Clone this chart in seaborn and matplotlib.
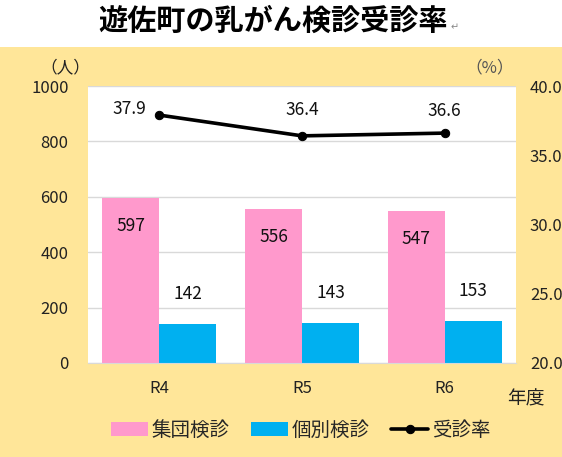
import numpy as np
import pandas as pd
import matplotlib
matplotlib.use('Agg')
import matplotlib.pyplot as plt
from matplotlib.patches import Rectangle
import seaborn as sns

years = ['R4', 'R5', 'R6']
group_exam = [597, 556, 547]
indiv_exam = [142, 143, 153]
rate = [37.9, 36.4, 36.6]
series_names = ['集団検診', '個別検診']

df = pd.DataFrame({
    '年度': years * 2,
    '人数': group_exam + indiv_exam,
    '区分': [series_names[0]] * 3 + [series_names[1]] * 3,
})
df_rate = pd.DataFrame({'年度': years, '受診率': rate})

sns.set_style('white')
plt.rcParams['font.family'] = ['Noto Sans CJK JP', 'DejaVu Sans']

fig = plt.figure(figsize=(5.62, 4.57), dpi=100)
fig.patch.set_facecolor('#FFE699')
# white strip behind the title
fig.patches.append(Rectangle((0, 0.897), 1, 0.103, transform=fig.transFigure,
                             facecolor='white', edgecolor='none', zorder=-10))
ax = fig.add_axes([0.1566, 0.2057, 0.7616, 0.6061])
ax.set_facecolor('white')

sns.barplot(data=df, x='年度', y='人数', hue='区分', ax=ax,
            palette=['#FF99CC', '#00B0F0'], width=0.8, saturation=1,
            edgecolor='none', legend=True)
ax.set_ylim(0, 1000)
ax.set_xlim(-0.5, 2.5)
ax.set_yticks(range(0, 1001, 200))
ax.yaxis.grid(True, color='#D9D9D9', lw=1)
ax.set_axisbelow(True)
for s in ['left', 'right', 'top']:
    ax.spines[s].set_visible(False)
ax.spines['bottom'].set_color('#D9D9D9')
ax.tick_params(axis='y', length=0, pad=14, labelsize=12, labelcolor='#222222')
ax.tick_params(axis='x', length=0, pad=12, labelsize=12, labelcolor='#222222')
ax.set_xlabel('')
ax.set_ylabel('')

# bar labels
for i, c in enumerate(ax.containers):
    for bar, v in zip(c, group_exam if i == 0 else indiv_exam):
        x = bar.get_x() + bar.get_width() / 2
        dy = -28 if i == 0 else 30
        ax.annotate(str(v), (x, v), xytext=(0, dy), textcoords='offset pixels',
                    ha='center', va='center', fontsize=12.5, color='#111111')

handles, labels = ax.get_legend_handles_labels()
ax.get_legend().remove()

ax2 = ax.twinx()
sns.lineplot(data=df_rate, x='年度', y='受診率', ax=ax2, color='black', lw=2.6,
             marker='o', markersize=6, markeredgecolor='black', label='受診率', legend=False)
ax2.set_ylim(20, 40)
ax2.set_yticks(np.arange(20, 40.1, 5))
ax2.set_yticklabels([f'{t:.1f}' for t in np.arange(20, 40.1, 5)])
ax2.set_xlim(-0.5, 2.5)
for s in ['left', 'right', 'top', 'bottom']:
    ax2.spines[s].set_visible(False)
ax2.tick_params(axis='y', length=0, pad=10, labelsize=12, labelcolor='#222222')
ax2.set_ylabel('')
ax2.set_xlabel('')

offsets = [(-30, 6), (0, 26), (0, 22)]
for i, v in enumerate(rate):
    ax2.annotate(f'{v:.1f}', (i, v), xytext=offsets[i], textcoords='offset pixels',
                 ha='center', va='center', fontsize=12.5, color='#111111')

h2, l2 = ax2.get_legend_handles_labels()
fig.legend(handles + h2, labels + l2, loc='center', bbox_to_anchor=(0.535, 0.058),
           ncol=3, frameon=False, fontsize=14, handlelength=1.9, handleheight=0.75,
           columnspacing=1.1, handletextpad=0.2)

fig.text(65 / 562, 1 - 68 / 457, '（人）', ha='center', va='center', fontsize=12, color='#222222')
fig.text(490 / 562, 1 - 68 / 457, '（%）', ha='center', va='center', fontsize=12, color='#555555')
fig.text(526 / 562, 1 - 399 / 457, '年度', ha='center', va='center', fontsize=13.5, color='#222222')

fig.text(273 / 562, 1 - 21 / 457, '遊佐町の乳がん検診受診率', ha='center', va='center',
         fontsize=21, fontweight='bold', color='black')
fig.text(455 / 562, 1 - 27 / 457, '↵', ha='center', va='center', fontsize=7, color='#888888')

fig.savefig('out.png', dpi=100, facecolor=fig.get_facecolor())
